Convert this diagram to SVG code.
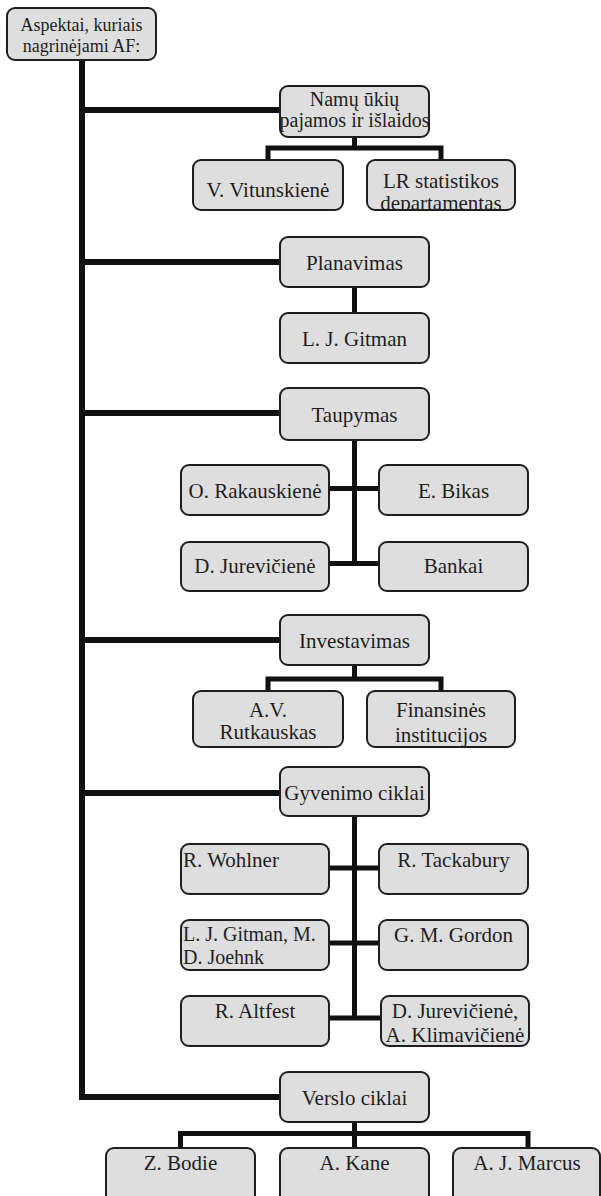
<svg xmlns="http://www.w3.org/2000/svg" width="601" height="1196" viewBox="0 0 601 1196">
<style>
.box{fill:#dedede;stroke:#1e1e1e;stroke-width:2}
text{font-family:"Liberation Serif","Times New Roman",serif;font-size:21px;fill:#1e1e1e}
.c{text-anchor:middle}
.root{font-size:18px}
.sm{font-size:20px}
.main{fill:none;stroke:#111;stroke-width:6;stroke-linejoin:miter;stroke-linecap:butt}
.sub{fill:none;stroke:#111;stroke-width:5;stroke-linejoin:miter;stroke-linecap:butt}
</style>
<defs>
<clipPath id="clipLR"><rect x="367" y="160" width="148" height="50"/></clipPath>
<clipPath id="clipFin"><rect x="367" y="691" width="148" height="56"/></clipPath>
</defs>
<rect width="601" height="1196" fill="#ffffff"/>
<g id="connectors">
<path class="main" d="M82 60 V1097 H280"/>
<path class="main" d="M82 110 H280 M82 262 H280 M82 413 H280 M82 640 H280 M82 793 H280"/>
<path class="sub" d="M354.5 137 V148 M268 160 V148 H441 V160"/>
<path class="sub" d="M354.5 287 V313"/>
<path class="sub" d="M354.5 440 V564 M329 488.5 H379 M329 563.5 H379"/>
<path class="sub" d="M354.5 665 V679 M268 691 V679 H441 V691"/>
<path class="sub" d="M354.5 816 V1018 M329 868 H379 M329 943 H379 M329 1018 H381"/>
<path class="sub" d="M354.5 1122 V1148 M180.5 1148 V1133.5 H528 V1148"/>
</g>
<g id="root"><rect class="box" x="7" y="8" width="149" height="52" rx="8"/><text class="c root" x="81.5" y="30.5">Aspektai, kuriais</text><text class="c root" x="81.5" y="52">nagrinėjami AF:</text></g>
<g id="namu"><rect class="box" x="280" y="86" width="149" height="51" rx="8"/><text class="c sm" x="354.5" y="105.5">Namų ūkių</text><text class="c sm" x="354.5" y="127">pajamos ir išlaidos</text></g>
<g id="vitunskiene"><rect class="box" x="193" y="160" width="150" height="50" rx="8"/><text class="c" x="268" y="197">V. Vitunskienė</text></g>
<g id="lr"><rect class="box" x="367" y="160" width="148" height="50" rx="8"/><g clip-path="url(#clipLR)"><text class="c" x="441" y="187.5">LR statistikos</text><text class="c" x="441" y="209.5">departamentas</text></g></g>
<g id="planavimas"><rect class="box" x="280" y="237" width="149" height="50" rx="8"/><text class="c" x="354.5" y="270">Planavimas</text></g>
<g id="gitman1"><rect class="box" x="280" y="313" width="149" height="50" rx="8"/><text class="c" x="354.5" y="346">L. J. Gitman</text></g>
<g id="taupymas"><rect class="box" x="280" y="388" width="149" height="52" rx="8"/><text class="c" x="354.5" y="422">Taupymas</text></g>
<g id="rakauskiene"><rect class="box" x="181" y="465" width="148" height="50" rx="8"/><text class="c" x="255" y="498">O. Rakauskienė</text></g>
<g id="bikas"><rect class="box" x="379" y="465" width="149" height="50" rx="8"/><text class="c" x="453.5" y="498">E. Bikas</text></g>
<g id="jureviciene1"><rect class="box" x="181" y="542" width="148" height="49" rx="8"/><text class="c" x="255" y="573">D. Jurevičienė</text></g>
<g id="bankai"><rect class="box" x="379" y="542" width="149" height="49" rx="8"/><text class="c" x="453.5" y="573">Bankai</text></g>
<g id="investavimas"><rect class="box" x="280" y="615" width="149" height="50" rx="8"/><text class="c" x="354.5" y="648">Investavimas</text></g>
<g id="rutkauskas"><rect class="box" x="193" y="691" width="150" height="56" rx="8"/><text class="c" x="268" y="716.5">A.V.</text><text class="c" x="268" y="739">Rutkauskas</text></g>
<g id="finansines"><rect class="box" x="367" y="691" width="148" height="56" rx="8"/><g clip-path="url(#clipFin)"><text class="c" x="441" y="716.5">Finansinės</text><text class="c" x="441" y="742">institucijos</text></g></g>
<g id="gyvenimo"><rect class="box" x="280" y="767" width="149" height="49" rx="8"/><text class="c" x="354.5" y="800">Gyvenimo ciklai</text></g>
<g id="wohlner"><rect class="box" x="181" y="844" width="148" height="50" rx="8"/><text x="183" y="866.5">R. Wohlner</text></g>
<g id="tackabury"><rect class="box" x="379" y="844" width="149" height="50" rx="8"/><text class="c" x="453.5" y="866.5">R. Tackabury</text></g>
<g id="gitman2"><rect class="box" x="181" y="920" width="148" height="50" rx="8"/><text class="sm" x="183" y="941">L. J. Gitman, M.</text><text class="sm" x="183" y="963.5">D. Joehnk</text></g>
<g id="gordon"><rect class="box" x="379" y="920" width="149" height="50" rx="8"/><text class="c" x="453.5" y="941.5">G. M. Gordon</text></g>
<g id="altfest"><rect class="box" x="181" y="996" width="148" height="50" rx="8"/><text class="c" x="255" y="1017.5">R. Altfest</text></g>
<g id="jureviciene2"><rect class="box" x="381" y="996" width="148" height="50" rx="8"/><text class="c" x="455" y="1017.5">D. Jurevičienė,</text><text class="c" x="455" y="1041.5">A. Klimavičienė</text></g>
<g id="verslo"><rect class="box" x="280" y="1072" width="149" height="50" rx="8"/><text class="c" x="354.5" y="1105">Verslo ciklai</text></g>
<g id="bodie"><rect class="box" x="106" y="1148" width="149" height="60" rx="8"/><text class="c" x="180.5" y="1170">Z. Bodie</text></g>
<g id="kane"><rect class="box" x="280" y="1148" width="149" height="60" rx="8"/><text class="c" x="354.5" y="1170">A. Kane</text></g>
<g id="marcus"><rect class="box" x="453" y="1148" width="147" height="60" rx="8"/><text class="c" x="527" y="1170">A. J. Marcus</text></g>
</svg>
